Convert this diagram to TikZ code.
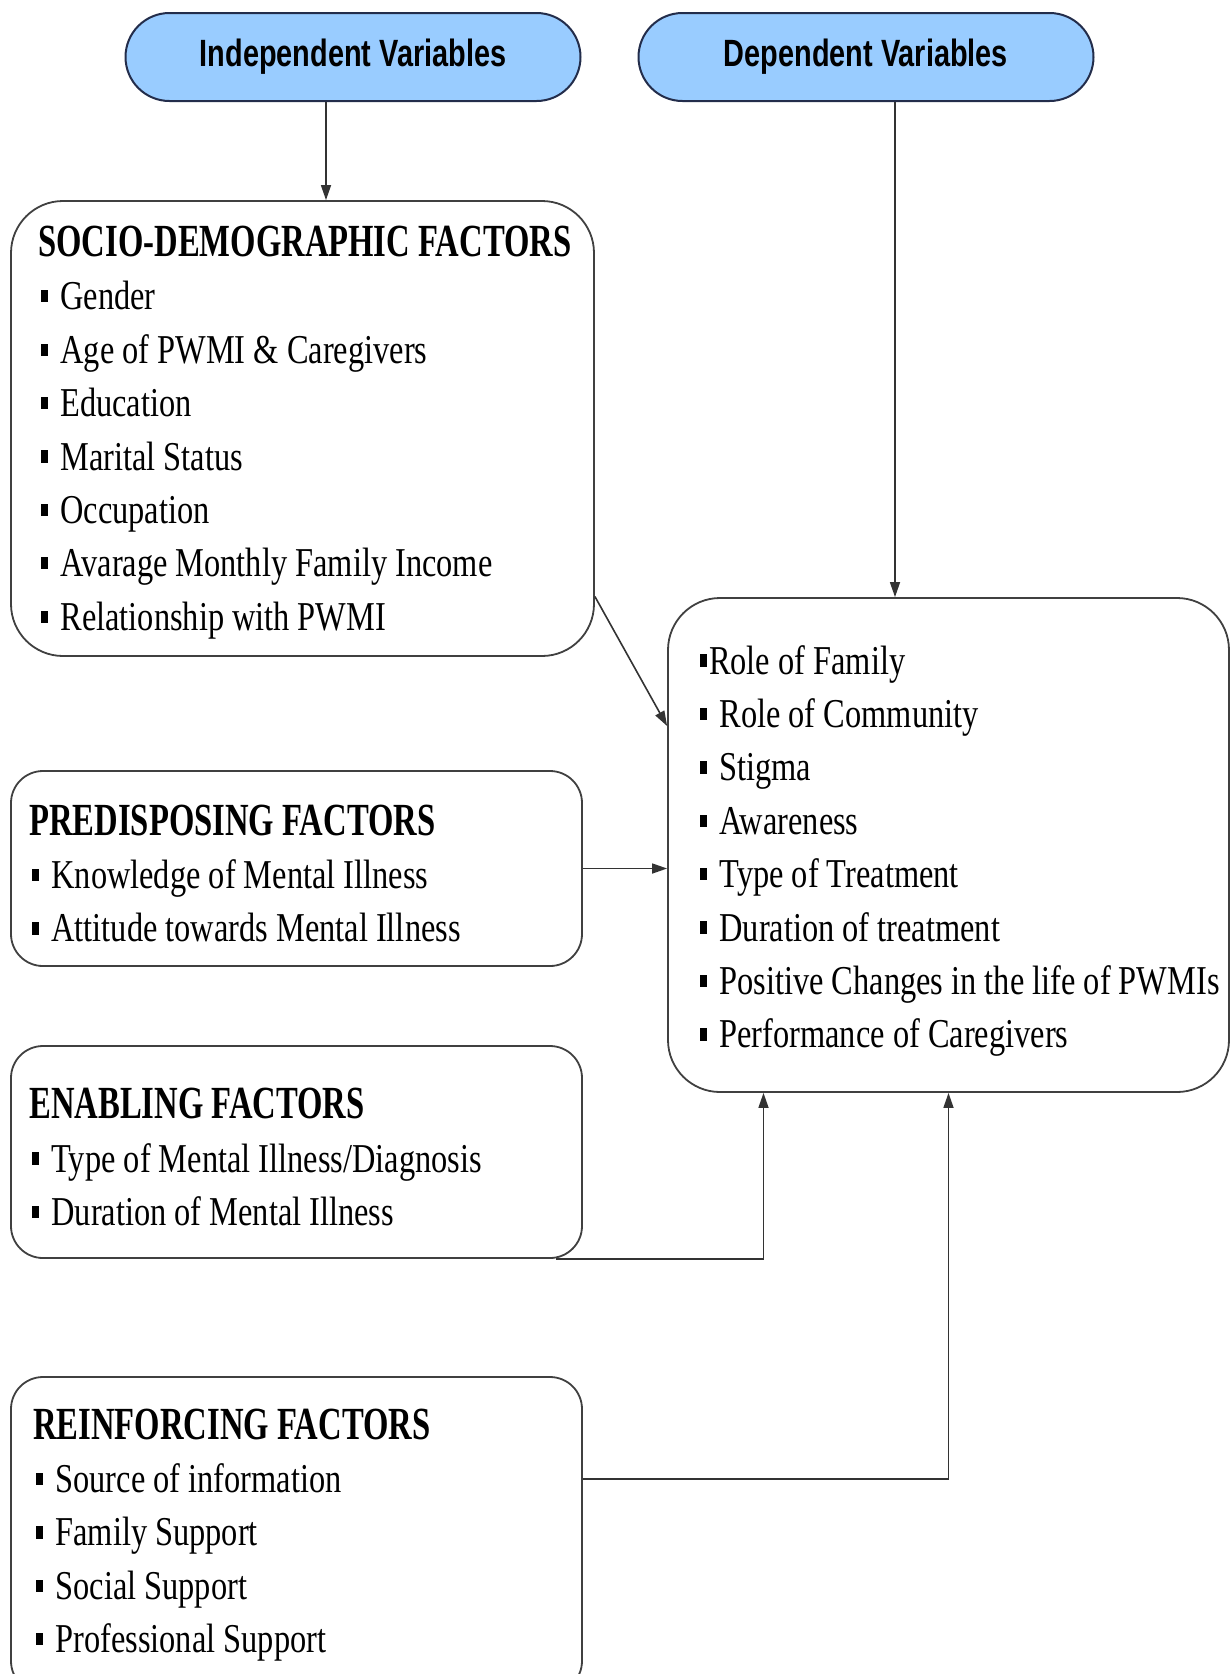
\documentclass[tikz,border=0pt]{standalone}
\usepackage{fontspec}
\setmainfont{Liberation Serif}
\newfontfamily\itemfont[FakeStretch=0.79]{Liberation Serif}
\newfontfamily\headfont[FakeStretch=0.71]{Liberation Serif}
\newfontfamily\varfont[FakeStretch=0.76]{Liberation Sans}
\usetikzlibrary{positioning, arrows.meta, calc}
\definecolor{varblue}{RGB}{153,204,255}
\definecolor{varedge}{RGB}{35,45,75}
\newcommand{\bul}[1][0.3em]{\hspace*{0.06em}\rule[0.18em]{0.18em}{0.3em}\hspace{#1}}
\newcommand{\fhead}[1]{{\headfont\bfseries\fontsize{46}{53.4}\selectfont #1}}

\begin{document}
\begin{tikzpicture}[x=1pt, y=-1pt, >={Triangle[length=15pt,width=10pt]},
    var/.style={draw=varedge, line width=2pt, fill=varblue, rounded corners=44pt,
      minimum width=455pt, minimum height=88pt, inner sep=0pt,
      font=\varfont\bfseries\fontsize{38}{44}\selectfont},
    factor/.style={draw=black!75, line width=1.8pt, rounded corners=32pt, inner sep=0pt},
    txt/.style={align=left, inner sep=0pt, font=\itemfont\fontsize{41}{53.4}\selectfont},
    link/.style={draw=black!80, line width=1.6pt}]
  \useasboundingbox (0,0) rectangle (1231,1674);

  \node[var] (v_ind) at (353,57) {Independent Variables};
  \node[var] (v_dep) at (866,57) {Dependent Variables};

  \node[factor, rounded corners=52pt, minimum width=583pt, minimum height=455pt] (f_socio) at (302.5,428.5) {};
  \node[factor, minimum width=571pt, minimum height=195pt] (f_pred) at (296.5,868.5) {};
  \node[factor, minimum width=571pt, minimum height=212pt] (f_enab) at (296.5,1152) {};
  \node[factor, minimum width=571pt, minimum height=316pt] (f_reinf) at (296.5,1535) {};
  \node[factor, rounded corners=52pt, minimum width=561pt, minimum height=494pt] (f_dep) at (948.5,845) {};

  \node[txt, right=28pt of f_socio.west, yshift=-4pt] (t_socio) {\fhead{SOCIO-DEMOGRAPHIC FACTORS}\\
    \bul Gender\\
    \bul Age of PWMI \& Caregivers\\
    \bul Education\\
    \bul Marital Status\\
    \bul Occupation\\
    \bul Avarage  Monthly Family Income\\
    \bul Relationship with PWMI};
  \node[txt, right=19pt of f_pred.west, yshift=-5pt] (t_pred) {\fhead{PREDISPOSING FACTORS}\\
    \bul Knowledge of Mental Illness\\
    \bul Attitude towards Mental Illness};
  \node[txt, right=19pt of f_enab.west, yshift=-5pt] (t_enab) {\fhead{ENABLING FACTORS}\\
    \bul Type of Mental Illness/Diagnosis\\
    \bul Duration of Mental Illness};
  \node[txt, right=23pt of f_reinf.west] (t_reinf) {\fhead{REINFORCING FACTORS}\\
    \bul Source of information\\
    \bul Family Support\\
    \bul Social Support\\
    \bul Professional Support};
  \node[txt, right=30pt of f_dep.west, yshift=-6pt] (t_dep) {\bul[0.05em]Role of Family\\
    \bul Role of Community\\
    \bul Stigma\\
    \bul Awareness\\
    \bul Type of Treatment\\
    \bul Duration of treatment\\
    \bul Positive Changes in the life of PWMIs\\
    \bul Performance of Caregivers};

  \draw[link, ->] ([xshift=-27pt]v_ind.south) -- ([xshift=-27pt]v_ind.south |- f_socio.north);
  \draw[link, ->] ([xshift=29pt]v_dep.south) -- ([xshift=29pt]v_dep.south |- f_dep.north);
  \draw[link, ->] ([yshift=-168pt]f_socio.east) -- ([yshift=119pt]f_dep.west);
  \draw[link, ->] (f_pred.east) -- (f_pred.east -| f_dep.west);
  \draw[link, ->] ([xshift=-27pt]f_enab.south east) -| ([xshift=-185pt]f_dep.south);
  \draw[link, ->] ([yshift=56pt]f_reinf.east) -| (f_dep.south);
\end{tikzpicture}
\end{document}
